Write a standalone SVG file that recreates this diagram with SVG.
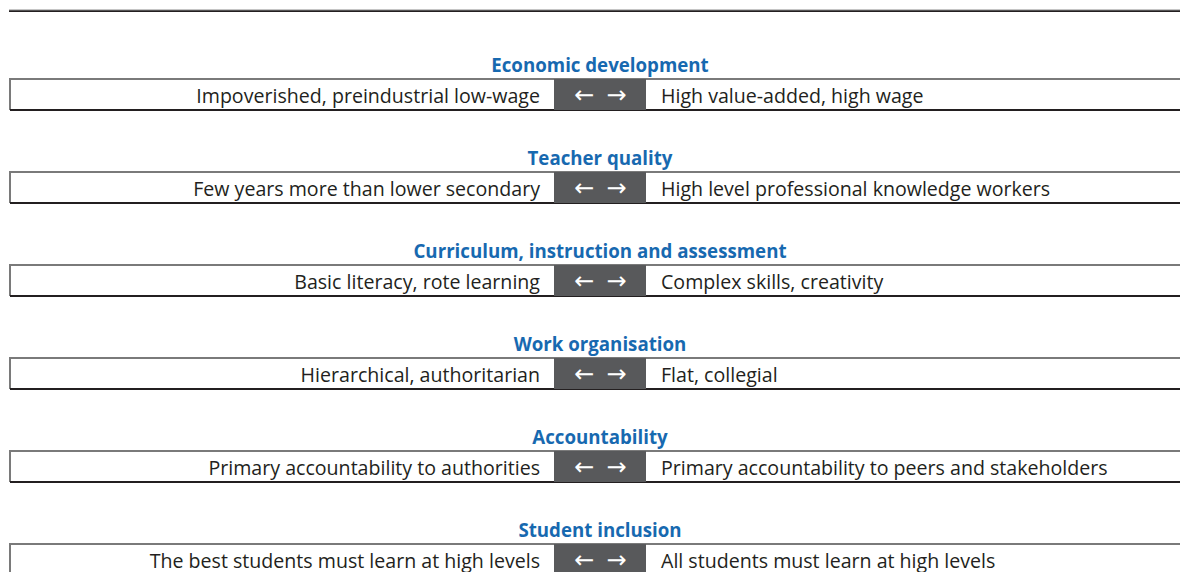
<svg xmlns="http://www.w3.org/2000/svg" width="1180" height="572" viewBox="0 0 1180 572">
<style>
.t{font-family:"Open Sans","Noto Sans",sans-serif;font-weight:bold;font-size:18.7px;fill:#1769b0;text-anchor:middle}
.l{font-family:"Open Sans","Noto Sans",sans-serif;font-size:19.6px;fill:#231f20;text-anchor:end}
.r{font-family:"Open Sans","Noto Sans",sans-serif;font-size:19.6px;fill:#231f20}
.a{font-family:"Noto Sans","DejaVu Sans",sans-serif;font-size:24px;fill:#ffffff;text-anchor:middle}
.bx{fill:#ffffff}
.top{stroke:#7a7a7a;stroke-width:2;fill:none}
.bot{stroke:#231f20;stroke-width:2;fill:none}
.dk{fill:#58595b}
</style>
<line x1="9" y1="11" x2="1180" y2="11" stroke="#231f20" stroke-width="2"/>
<line x1="9" y1="10" x2="1180" y2="10" stroke="#8a8a8a" stroke-width="1"/>
<defs>
<g id="row">
<rect class="bx" x="10" y="0" width="1170" height="31"/>
<path class="top" d="M10,31 V0 H1180"/>
<line class="bot" x1="10" y1="31" x2="1180" y2="31"/>
<rect class="dk" x="554" y="0" width="92" height="31"/>
<text class="a" x="602" y="24" letter-spacing="3">← →</text>
</g>
</defs>
<g id="row1">
<text class="t" x="600" y="72">Economic development</text>
<use href="#row" y="79"/>
<text class="l" x="540" y="103">Impoverished, preindustrial low-wage</text>
<text class="r" x="661" y="103">High value-added, high wage</text>
</g>
<g id="row2">
<text class="t" x="600" y="165">Teacher quality</text>
<use href="#row" y="172"/>
<text class="l" x="540" y="196">Few years more than lower secondary</text>
<text class="r" x="661" y="196">High level professional knowledge workers</text>
</g>
<g id="row3">
<text class="t" x="600" y="258">Curriculum, instruction and assessment</text>
<use href="#row" y="265"/>
<text class="l" x="540" y="289">Basic literacy, rote learning</text>
<text class="r" x="661" y="289">Complex skills, creativity</text>
</g>
<g id="row4">
<text class="t" x="600" y="351">Work organisation</text>
<use href="#row" y="358"/>
<text class="l" x="540" y="382">Hierarchical, authoritarian</text>
<text class="r" x="661" y="382">Flat, collegial</text>
</g>
<g id="row5">
<text class="t" x="600" y="444">Accountability</text>
<use href="#row" y="451"/>
<text class="l" x="540" y="475">Primary accountability to authorities</text>
<text class="r" x="661" y="475">Primary accountability to peers and stakeholders</text>
</g>
<g id="row6">
<text class="t" x="600" y="537">Student inclusion</text>
<use href="#row" y="544"/>
<text class="l" x="540" y="568">The best students must learn at high levels</text>
<text class="r" x="661" y="568">All students must learn at high levels</text>
</g>
</svg>
